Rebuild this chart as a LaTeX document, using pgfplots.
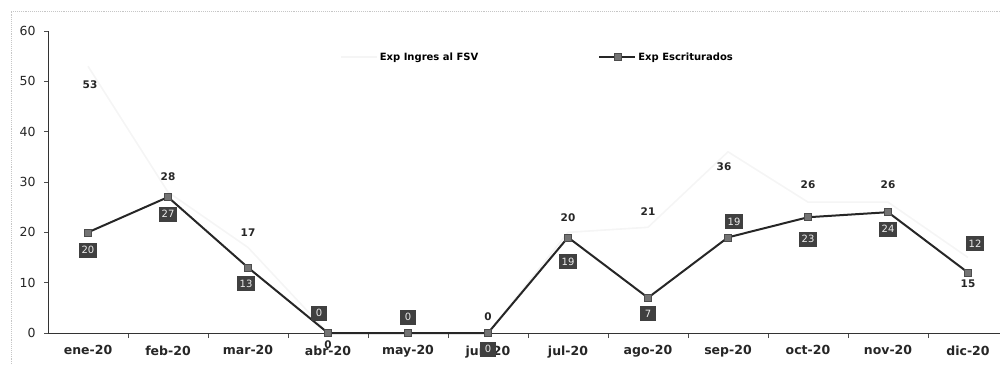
\documentclass[border=0pt]{standalone}
\usepackage{fontspec}
\setmainfont{DejaVu Sans}
\usepackage{pgfplots}
\usepackage{pgfplotstable}
\pgfplotsset{compat=1.18}

\pgfplotstableread{
x y dx dy
0 53 2 -18
1 28 0 15
2 17 0 15
3 0 0 -12
4 0 0 16
5 0 0 16
6 20 0 15
7 21 0 16
8 36 -4 -15
9 26 0 17
10 26 0 17
11 15 0 -26
}\ingres

\pgfplotstableread{
x y dx dy
0 20 0 -18
1 27 0 -17
2 13 -2 -16
3 0 -9 20
4 0 0 16
5 0 0 -16
6 19 0 -24
7 7 0 -16
8 19 6 16
9 23 0 -22
10 24 0 -17
11 12 7 29
}\escrit

\begin{document}
\begin{tikzpicture}
\useasboundingbox (0pt,0pt) rectangle (1000pt,364pt);
\draw[gray!45, line width=0.9pt, densely dotted] (11pt,-2pt) -- (11pt,353pt) -- (1002pt,353pt);
\begin{axis}[
  at={(48pt,31pt)}, anchor=south west,
  scale only axis, width=952pt, height=302pt,
  xmin=-0.5, xmax=11.4, ymin=0, ymax=60,
  axis lines*=left,
  axis line style={black!80, line width=0.9pt},
  clip=false,
  ytick={0,10,...,60},
  xtick={0,...,11},
  xticklabels={{ene-20},{feb-20},{mar-20},{abr-20},{may-20},{jun-20},{jul-20},{ago-20},{sep-20},{oct-20},{nov-20},{dic-20}},
  minor xtick={0.5,1.5,...,10.5},
  major x tick style={draw=none},
  tick align=outside,
  major tick length=4pt, minor tick length=5pt,
  tick style={black!70, line width=0.6pt},
  /pgf/number format/assume math mode=true,
  yticklabel style={font=\fontsize{12.5}{12.5}\selectfont, xshift=-5pt, text=black!85},
  xticklabel style={font=\bfseries\fontsize{12.5}{12.5}\selectfont, text=black!85, yshift=-5pt},
  legend columns=2,
  legend style={draw=none, fill=none, at={(0.3036,0.914)}, anchor=west,
    font=\bfseries\fontsize{10}{10}\selectfont,
    /tikz/every even column/.append style={column sep=118pt},
    nodes={inner sep=2pt}},
  legend image code/.code={\draw[mark repeat=2,mark phase=2,#1] plot coordinates {(0pt,0pt) (18pt,0pt) (36pt,0pt)};},
  point meta=explicit symbolic,
  visualization depends on={\thisrow{dx} \as \dx},
  visualization depends on={\thisrow{dy} \as \dy},
]
\addplot[gray!8, line width=1.6pt, mark=none,
  nodes near coords,
  every node near coord/.append style={anchor=center, xshift=\dx pt, yshift=\dy pt,
     font=\bfseries\fontsize{10.5}{10.5}\selectfont, text=black!85}]
  table[x=x, y=y, meta=y] {\ingres};
\addlegendentry{Exp Ingres al FSV}
\addplot[black!85, line width=2pt, mark=square*, mark size=3.5pt,
  mark options={fill=black!55, draw=black!70, line width=0.6pt},
  nodes near coords,
  every node near coord/.append style={anchor=center, xshift=\dx pt, yshift=\dy pt,
     font=\fontsize{10}{10}\selectfont, text=white!85!gray, fill=black!75,
     inner sep=2.5pt, minimum height=15pt, minimum width=16pt}]
  table[x=x, y=y, meta=y] {\escrit};
\addlegendentry{Exp Escriturados}
\end{axis}
\end{tikzpicture}
\end{document}
